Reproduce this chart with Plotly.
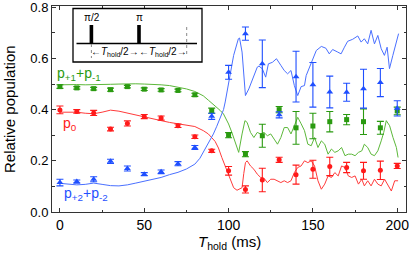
import plotly.graph_objects as go

# ---------------- data ----------------
t_exp = [0, 10, 20, 30, 40, 50, 60, 70, 80, 90, 100, 110, 120, 130, 140, 150, 160, 170, 180, 190, 200]

p0 = [0.399, 0.393, 0.387, 0.324, 0.346, 0.373, 0.367, 0.337, 0.294, 0.239, 0.161, 0.088,
      0.125, 0.204, 0.146, 0.167, 0.178, 0.174, 0.161, 0.163, 0.180]
p0_err = [0.015, 0.007, 0.010, 0.007, 0.010, 0.008, 0.008, 0.007, 0.007, 0.006, 0.017, 0.014,
          0.046, 0.010, 0.037, 0.035, 0.036, 0.020, 0.033, 0.036, 0.010]

p1 = [0.490, 0.485, 0.482, 0.478, 0.490, 0.480, 0.477, 0.475, 0.458, 0.396, 0.300, 0.226,
      0.298, 0.400, 0.329, 0.336, 0.353, 0.361, 0.353, 0.329, 0.395]
p1_err = [0.007, 0.005, 0.005, 0.006, 0.005, 0.005, 0.005, 0.005, 0.006, 0.010, 0.010, 0.010,
          0.045, 0.012, 0.064, 0.050, 0.040, 0.020, 0.050, 0.025, 0.015]

p2 = [0.115, 0.119, 0.128, 0.198, 0.170, 0.148, 0.157, 0.189, 0.252, 0.374, 0.546, 0.697,
      0.579, 0.380, 0.529, 0.497, 0.469, 0.468, 0.482, 0.506, 0.405]
p2_err = [0.013, 0.006, 0.010, 0.008, 0.010, 0.006, 0.007, 0.008, 0.008, 0.012, 0.027, 0.026,
          0.093, 0.012, 0.099, 0.087, 0.062, 0.035, 0.076, 0.055, 0.030]

# theory curves
green_t = [0, 5, 10, 15, 20, 25, 30, 35, 40, 45, 50, 55, 60, 65, 70, 75, 80, 85, 88, 91, 93,
           95, 97, 100, 102, 103, 105, 106, 108, 109.7, 111, 113, 115, 117, 119, 121, 123, 125,
           127, 129, 131, 133, 135, 137, 139, 141, 143, 145, 147, 149, 151, 153, 155, 157, 159,
           161, 163, 165, 167, 169, 171, 173, 175, 177, 179, 180.5, 182.5, 184.5, 186.5, 188.5,
           190.5, 192, 193.5, 195.5, 197.5, 199.5, 200.5]
green_v = [0.497, 0.498, 0.498, 0.497, 0.497, 0.498, 0.499, 0.500, 0.501, 0.501, 0.500, 0.499,
           0.497, 0.494, 0.488, 0.481, 0.471, 0.454, 0.437, 0.421, 0.409, 0.397, 0.383, 0.344,
           0.310, 0.291, 0.246, 0.233, 0.305, 0.357, 0.350, 0.311, 0.291, 0.311, 0.305, 0.311,
           0.298, 0.305, 0.285, 0.265, 0.291, 0.330, 0.330, 0.305, 0.337, 0.370, 0.345, 0.318,
           0.265, 0.259, 0.291, 0.252, 0.278, 0.265, 0.226, 0.246, 0.233, 0.239, 0.252, 0.220,
           0.226, 0.226, 0.220, 0.233, 0.239, 0.265, 0.252, 0.226, 0.220, 0.239, 0.278, 0.311,
           0.357, 0.337, 0.291, 0.252, 0.213]

red_t = [0, 5, 10, 15, 20, 25, 30, 35, 40, 45, 50, 55, 60, 65, 70, 75, 80, 85, 88, 92, 94, 96,
         99, 101, 103, 105, 108, 109, 110, 111, 113, 115, 117, 119, 121, 123, 125, 127, 129, 131,
         133, 135, 137, 139, 141, 143, 145, 147, 149, 151, 153, 155, 157, 159, 161, 163, 165,
         167, 169, 171, 173, 175, 177, 179, 180.5, 182.5, 184.5, 186.5, 188.5, 190.5, 192.5,
         194.5, 196.5, 198.5, 200.5]
red_v = [0.390, 0.391, 0.390, 0.386, 0.384, 0.390, 0.398, 0.394, 0.386, 0.378, 0.370, 0.364,
         0.357, 0.350, 0.345, 0.340, 0.334, 0.318, 0.305, 0.276, 0.250, 0.213, 0.161, 0.122,
         0.095, 0.085, 0.095, 0.150, 0.193, 0.200, 0.180, 0.167, 0.148, 0.135, 0.132, 0.115,
         0.128, 0.128, 0.122, 0.115, 0.122, 0.115, 0.122, 0.154, 0.174, 0.180, 0.200, 0.193,
         0.200, 0.180, 0.122, 0.089, 0.109, 0.141, 0.135, 0.154, 0.141, 0.180, 0.174, 0.141,
         0.135, 0.141, 0.109, 0.128, 0.102, 0.122, 0.102, 0.128, 0.109, 0.102, 0.128, 0.102,
         0.082, 0.122, 0.122]

blue_t = [0, 5, 10, 15, 20, 25, 30, 35, 40, 45, 50, 55, 60, 65, 70, 75, 80, 83, 86, 89, 91,
          93, 95, 97, 98, 100, 103, 105.8, 106.5, 108, 109, 110, 112, 114, 115.7, 117, 118,
          120, 122, 123.6, 126, 128.4, 131, 133, 135, 137, 139, 141, 143, 145, 146, 148, 150,
          152, 155, 157.7, 159.7, 161.7, 164.7, 166.7, 168.7, 170.6, 173.6, 176.6, 178.6,
          180.5, 182.5, 184.5, 186.5, 188.5, 190.5, 192.4, 194, 195.4, 197.4, 198.8, 200.8]
blue_v = [0.112, 0.109, 0.106, 0.108, 0.113, 0.108, 0.103, 0.102, 0.106, 0.113, 0.120, 0.127,
          0.135, 0.146, 0.155, 0.168, 0.187, 0.210, 0.246, 0.277, 0.305, 0.335, 0.370, 0.400,
          0.430, 0.507, 0.612, 0.677, 0.680, 0.625, 0.533, 0.455, 0.481, 0.514, 0.546, 0.566,
          0.570, 0.560, 0.527, 0.579, 0.585, 0.599, 0.573, 0.553, 0.540, 0.553, 0.494, 0.455,
          0.490, 0.494, 0.533, 0.566, 0.605, 0.631, 0.647, 0.640, 0.618, 0.635, 0.625, 0.618,
          0.644, 0.667, 0.675, 0.688, 0.664, 0.677, 0.657, 0.710, 0.657, 0.690, 0.638, 0.612,
          0.644, 0.560, 0.612, 0.644, 0.697]

# ---------------- style ----------------
RED, RED_L = "#ff1a1a", "#ff3b3b"
GREEN, GREEN_L = "#2a9a10", "#5cb83a"
BLUE, BLUE_L = "#1f4fff", "#4a70ff"
FONT = "Liberation Sans, Arial, sans-serif"

fig = go.Figure()

for tt, vv, col in [(green_t, green_v, GREEN_L), (red_t, red_v, RED_L), (blue_t, blue_v, BLUE_L)]:
    fig.add_trace(go.Scatter(x=tt, y=vv, mode="lines", line=dict(color=col, width=1),
                             hoverinfo="skip"))

for vals, errs, col, sym, sz in [(p1, p1_err, GREEN, "square", 5),
                                  (p0, p0_err, RED, "circle", 5),
                                  (p2, p2_err, BLUE, "triangle-up", 6)]:
    fig.add_trace(go.Scatter(
        x=t_exp, y=vals, mode="markers",
        marker=dict(color=col, symbol=sym, size=sz, line=dict(width=0)),
        error_y=dict(type="data", array=errs, visible=True, color=col, thickness=1.1, width=3.5)))

# plot-area pixel geometry (for the inset decoration)
W, H = 409, 257
L, R, T, B = 52, 406, 6, 212


def px(x):
    return (x - L) / (R - L)


def py(y):
    return (B - y) / (B - T)


shapes = [
    dict(type="rect", xref="paper", yref="paper", x0=px(73), x1=px(202), y0=py(62), y1=py(8.5),
         line=dict(color="black", width=1.3), fillcolor="white", layer="above"),
    dict(type="line", xref="paper", yref="paper", x0=px(76.5), x1=px(197), y0=py(43.5), y1=py(43.5),
         line=dict(color="black", width=1.5), layer="above"),
    dict(type="rect", xref="paper", yref="paper", x0=px(89.6), x1=px(93.2), y0=py(43.5), y1=py(25),
         line=dict(width=0), fillcolor="black", layer="above"),
    dict(type="rect", xref="paper", yref="paper", x0=px(137.2), x1=px(140.8), y0=py(43.5), y1=py(25),
         line=dict(width=0), fillcolor="black", layer="above"),
    dict(type="line", xref="paper", yref="paper", x0=px(91.4), x1=px(91.4), y0=py(44), y1=py(58),
         line=dict(color="#888888", width=1, dash="dot"), layer="above"),
    dict(type="line", xref="paper", yref="paper", x0=px(186.7), x1=px(186.7), y0=py(27), y1=py(55),
         line=dict(color="#888888", width=1, dash="dot"), layer="above"),
]

ann = [
    dict(x=px(91.5), y=py(17.5), text="π/2", font=dict(size=10, color="black")),
    dict(x=px(139), y=py(17.5), text="π", font=dict(size=10, color="black")),
    dict(x=px(115), y=py(52), text="←<i>T</i><sub>hold</sub>/2→", font=dict(size=10, color="black")),
    dict(x=px(163), y=py(52), text="←<i>T</i><sub>hold</sub>/2→", font=dict(size=10, color="black")),
    dict(x=px(55), y=py(74), xanchor="left", text="p<sub>+1</sub>+p<sub>-1</sub>",
         font=dict(size=14, color=GREEN)),
    dict(x=px(61), y=py(124), xanchor="left", text="p<sub>0</sub>", font=dict(size=14, color=RED)),
    dict(x=px(62), y=py(194), xanchor="left", text="p<sub>+2</sub>+p<sub>-2</sub>",
         font=dict(size=14, color=BLUE)),
    # axis titles placed as annotations for exact position
    dict(x=px(229), y=py(242), text="<i>T</i><sub>hold</sub> (ms)", font=dict(size=15, color="black")),
    dict(x=px(9), y=py(109), text="Relative population", textangle=-90,
         font=dict(size=15, color="black")),
]
for a in ann:
    a.update(xref="paper", yref="paper", showarrow=False)
    a.setdefault("xanchor", "center")
    a["yanchor"] = "middle"

axis_common = dict(showgrid=False, zeroline=False, showline=True, linecolor="#333333", linewidth=1,
                   mirror="allticks", ticks="inside", ticklen=4, tickwidth=1, tickcolor="#333333",
                   automargin=False, ticklabeloverflow="allow")

fig.update_layout(
    width=W, height=H,
    margin=dict(l=L, r=W - R, t=T, b=H - B),
    paper_bgcolor="white", plot_bgcolor="white",
    showlegend=False,
    font=dict(family=FONT, color="black"),
    shapes=shapes, annotations=ann,
    xaxis=dict(range=[-4.7, 205.2], tickvals=[0, 50, 100, 150, 200],
               minor=dict(ticks="inside", ticklen=2.5, tickcolor="#333333", dtick=25, tick0=0),
               tickfont=dict(size=14, color="black", family=FONT),
               **axis_common),
    yaxis=dict(range=[0, 0.805], tickvals=[0, 0.2, 0.4, 0.6, 0.8], tickformat=".1f",
               minor=dict(ticks="inside", ticklen=2.5, tickcolor="#333333", dtick=0.1, tick0=0),
               tickfont=dict(size=13, color="black", family=FONT),
               **axis_common),
)

fig.write_html("out.html", config={"displayModeBar": False},
               post_script="document.body.style.margin='0px';")
